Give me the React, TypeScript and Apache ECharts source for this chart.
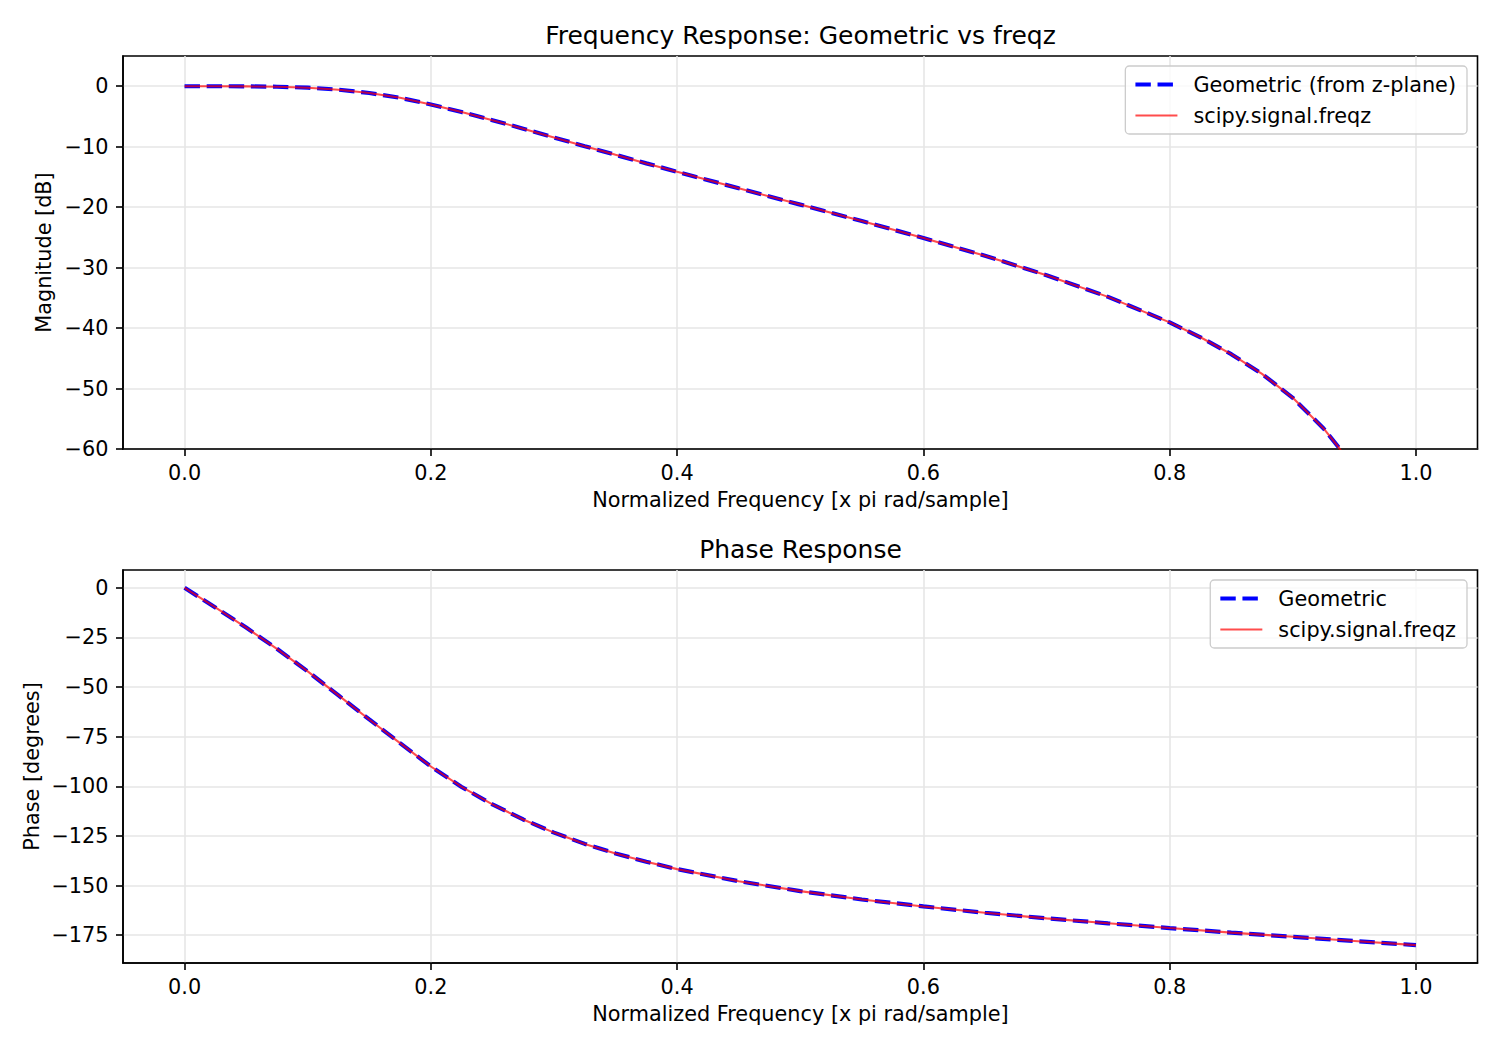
import { useEffect, useRef } from "react";
import * as echarts from "echarts";

// Normalized frequency (x pi rad/sample) and magnitude in dB
const magFreq = [
  0, 0.025, 0.05, 0.075, 0.1, 0.125, 0.15, 0.175, 0.2, 0.225, 0.25, 0.275, 0.3, 0.325, 0.35, 0.375, 0.4,
  0.45, 0.5, 0.55, 0.6, 0.65, 0.7, 0.75, 0.8, 0.825, 0.85, 0.875, 0.9, 0.925, 0.9375, 0.95,
];
const magDb = [
  0, 0, -0.02, -0.08, -0.24, -0.57, -1.12, -1.92, -3.01, -4.27, -5.61, -7.02, -8.48, -9.92, -11.35, -12.76, -14.15,
  -16.88, -19.58, -22.29, -25.1, -28.04, -31.25, -34.84, -39.06, -41.52, -44.31, -47.58, -51.54, -56.6, -59.79, -63.7,
];

// Normalized frequency and phase in degrees
const phaseFreq = [
  0, 0.025, 0.05, 0.075, 0.1, 0.125, 0.15, 0.175, 0.2, 0.225, 0.25, 0.275, 0.3, 0.325, 0.35, 0.375, 0.4,
  0.45, 0.5, 0.55, 0.6, 0.65, 0.7, 0.75, 0.8, 0.85, 0.9, 0.95, 1.0,
];
const phaseDeg = [
  0, -9.85, -20.0, -30.7, -42.1, -54.2, -66.3, -78.2, -90.0, -100.3, -109.1, -116.7, -123.3, -129.0, -133.8, -138.0, -141.7,
  -147.8, -152.8, -157.0, -160.5, -163.7, -166.5, -169.0, -171.4, -173.7, -175.8, -177.9, -180.0,
];

// Tick values
const xTicks = [0, 0.2, 0.4, 0.6, 0.8, 1.0];
const magTicks = [-60, -50, -40, -30, -20, -10, 0];
const phaseTicks = [-175, -150, -125, -100, -75, -50, -25, 0];

const FONT = "DejaVu Sans";
const TICK_SIZE = 20.8;
const BLUE = "#0000ff";
const RED = "rgba(255,0,0,0.7)";

const geometricStyle = { color: BLUE, width: 4.17, type: [15.4, 6.7] };
const freqzStyle = { color: RED, width: 2.08 };

const zip = (xs: number[], ys: number[]) => xs.map((x, i) => [x, ys[i]]);
const minus = (s: string) => s.replace("-", "\u2212");

function xAxisFor(gridIndex: number) {
  return {
    type: "value",
    gridIndex,
    min: -0.05,
    max: 1.05,
    axisLine: { show: true, onZero: false, lineStyle: { color: "#000", width: 1.6 } },
    axisTick: { show: true, customValues: xTicks, length: 7, lineStyle: { color: "#000", width: 1.6 } },
    axisLabel: {
      customValues: xTicks,
      formatter: (v: number) => v.toFixed(1),
      fontFamily: FONT,
      fontSize: TICK_SIZE,
      color: "#000",
      margin: 13,
    },
    splitLine: { show: true, lineStyle: { color: "#e6e6e6", width: 1.6 } },
  };
}

function yAxisFor(gridIndex: number, min: number, max: number, ticks: number[]) {
  return {
    type: "value",
    gridIndex,
    min,
    max,
    axisLine: { show: true, onZero: false, lineStyle: { color: "#000", width: 1.6 } },
    axisTick: { show: true, customValues: ticks, length: 7, lineStyle: { color: "#000", width: 1.6 } },
    axisLabel: {
      customValues: ticks,
      formatter: (v: number) => minus(String(v)),
      fontFamily: FONT,
      fontSize: TICK_SIZE,
      color: "#000",
      margin: 14.5,
    },
    splitLine: { show: true, lineStyle: { color: "#e6e6e6", width: 1.6 } },
  };
}

// Legend entries: line samples only, no markers
const hidden = { color: "transparent", borderColor: "transparent", borderWidth: 0, opacity: 0 };
function legendFor(top: number, geometricName: string) {
  return {
    show: true,
    orient: "vertical",
    right: 33,
    top,
    data: [
      { name: geometricName, itemStyle: hidden, lineStyle: geometricStyle },
      { name: "scipy.signal.freqz", itemStyle: hidden, lineStyle: freqzStyle },
    ],
    selectedMode: false,
    itemWidth: 42,
    itemHeight: 20,
    itemGap: 10,
    align: "left",
    padding: [8, 11, 8, 8],
    backgroundColor: "rgba(255,255,255,0.8)",
    borderColor: "#cccccc",
    borderWidth: 1.3,
    borderRadius: 4,
    textStyle: {
      fontFamily: FONT,
      fontSize: TICK_SIZE,
      color: "#000",
      padding: [0, 0, 0, 11],
    },
  };
}

function textEl(text: string, x: number, y: number, size: number, rotation = 0) {
  return {
    type: "text",
    x,
    y,
    rotation,
    style: {
      text,
      fill: "#000",
      font: `${size}px "${FONT}"`,
      textAlign: "center",
      textVerticalAlign: "middle",
    },
  };
}

export default function App() {
  const ref = useRef<HTMLDivElement>(null);

  useEffect(() => {
    if (!ref.current) return;
    const chart = echarts.init(ref.current, null, { renderer: "svg" });

    chart.setOption({
      animation: false,
      backgroundColor: "#ffffff",
      grid: [
        { left: 123, top: 56, width: 1354.5, height: 393, show: true, borderColor: "#000", borderWidth: 1.6 },
        { left: 123, top: 570, width: 1354.5, height: 393, show: true, borderColor: "#000", borderWidth: 1.6 },
      ],
      xAxis: [xAxisFor(0), xAxisFor(1)],
      yAxis: [yAxisFor(0, -60, 5, magTicks), yAxisFor(1, -189, 9, phaseTicks)],
      legend: [legendFor(66, "Geometric (from z-plane)"), legendFor(580, "Geometric")],
      graphic: [
        textEl("Frequency Response: Geometric vs freqz", 800.5, 35, 25),
        textEl("Phase Response", 800.5, 549, 25),
        textEl("Normalized Frequency [x pi rad/sample]", 800.5, 500, TICK_SIZE),
        textEl("Normalized Frequency [x pi rad/sample]", 800.5, 1014, TICK_SIZE),
        textEl("Magnitude [dB]", 43.5, 252.5, TICK_SIZE, Math.PI / 2),
        textEl("Phase [degrees]", 31.7, 766.5, TICK_SIZE, Math.PI / 2),
      ],
      series: [
        {
          name: "Geometric (from z-plane)",
          type: "line",
          xAxisIndex: 0,
          yAxisIndex: 0,
          data: zip(magFreq, magDb),
          symbol: "none",
          clip: true,
          lineStyle: geometricStyle,
          itemStyle: { color: BLUE },
          z: 2,
        },
        {
          name: "scipy.signal.freqz",
          type: "line",
          xAxisIndex: 0,
          yAxisIndex: 0,
          data: zip(magFreq, magDb),
          symbol: "none",
          clip: true,
          lineStyle: freqzStyle,
          itemStyle: { color: RED },
          z: 3,
        },
        {
          name: "Geometric",
          type: "line",
          xAxisIndex: 1,
          yAxisIndex: 1,
          data: zip(phaseFreq, phaseDeg),
          symbol: "none",
          clip: true,
          lineStyle: geometricStyle,
          itemStyle: { color: BLUE },
          z: 2,
        },
        {
          name: "scipy.signal.freqz",
          type: "line",
          xAxisIndex: 1,
          yAxisIndex: 1,
          data: zip(phaseFreq, phaseDeg),
          symbol: "none",
          clip: true,
          lineStyle: freqzStyle,
          itemStyle: { color: RED },
          z: 3,
        },
      ],
    });

    return () => chart.dispose();
  }, []);

  return (
    <div
      ref={ref}
      style={{ position: "absolute", left: 0, top: 0, width: 1500, height: 1050, background: "#fff" }}
    />
  );
}
